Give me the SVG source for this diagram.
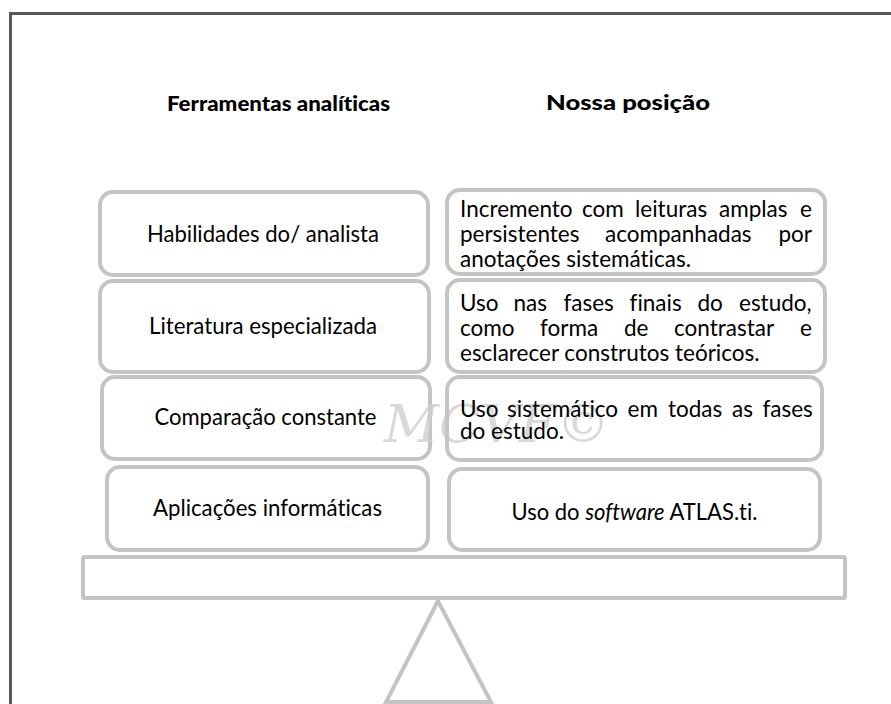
<svg xmlns="http://www.w3.org/2000/svg" width="891" height="704" viewBox="0 0 891 704">
<style>
text{font-variant-ligatures:none;font-feature-settings:"liga" 0,"dlig" 0}
.frame{fill:none;stroke:#595959;stroke-width:3}
.box{fill:#fff;stroke:#c4c4c4;stroke-width:4}
.t{font-family:Lato,"Liberation Sans",sans-serif;font-size:22.5px;fill:#000}
.h{font-family:Lato,"Liberation Sans",sans-serif;font-size:20.5px;font-weight:900;fill:#000}
.c{text-anchor:middle}
.wm{font-family:"DejaVu Serif","Liberation Serif",serif;font-style:italic;font-size:52px;fill:#d0d0d0;opacity:0.8}
</style>
<rect width="891" height="704" fill="#fff"/>
<rect class="frame" x="10.5" y="13.5" width="920" height="740"/>

<g id="headings">
<text class="h c" x="278.5" y="111" textLength="223" lengthAdjust="spacingAndGlyphs">Ferramentas analíticas</text>
<text class="h c" x="628" y="110" textLength="164" lengthAdjust="spacingAndGlyphs">Nossa posição</text>
</g>

<g id="fulcrum">
<polygon class="box" points="438,601 386,702 491,702"/>
</g>

<g id="plank">
<rect class="box" x="83" y="557" width="762" height="41" rx="1.5"/>
</g>

<g id="L1">
<rect class="box" x="100" y="192" width="328" height="83" rx="13"/>
<text class="t c" x="263" y="242" textLength="232" lengthAdjust="spacingAndGlyphs">Habilidades do/ analista</text>
</g>
<g id="L2">
<rect class="box" x="100" y="281" width="329" height="91" rx="13"/>
<text class="t c" x="263" y="334" textLength="228" lengthAdjust="spacingAndGlyphs">Literatura especializada</text>
</g>
<g id="L3">
<rect class="box" x="102" y="377" width="328" height="82" rx="13"/>
<text class="t c" x="265.5" y="425" textLength="222" lengthAdjust="spacingAndGlyphs">Comparação constante</text>
</g>
<g id="L4">
<rect class="box" x="107" y="467" width="321" height="83" rx="13"/>
<text class="t c" x="267.5" y="515.5" textLength="229" lengthAdjust="spacingAndGlyphs">Aplicações informáticas</text>
</g>

<text class="wm" x="384" y="442" textLength="226" lengthAdjust="spacingAndGlyphs">MCVF©</text>

<g id="R1">
<rect class="box" x="447" y="190" width="378" height="84" rx="13" fill="none" style="fill:none"/>
<text class="t" y="216.5"><tspan x="460">Incremento</tspan><tspan x="582">com</tspan><tspan x="635">leituras</tspan><tspan x="719">amplas</tspan><tspan x="800">e</tspan></text>
<text class="t" y="241.5"><tspan x="460">persistentes</tspan><tspan x="605">acompanhadas</tspan><tspan x="778.5">por</tspan></text>
<text class="t" y="266.5" x="460">anotações sistemáticas.</text>
</g>
<g id="R2">
<rect class="box" x="447" y="280" width="378" height="92" rx="13" style="fill:none"/>
<text class="t" y="311"><tspan x="460">Uso</tspan><tspan x="513.5">nas</tspan><tspan x="563.5">fases</tspan><tspan x="629.5">finais</tspan><tspan x="697.5">do</tspan><tspan x="739">estudo,</tspan></text>
<text class="t" y="336"><tspan x="460">como</tspan><tspan x="540">forma</tspan><tspan x="624">de</tspan><tspan x="674">contrastar</tspan><tspan x="800">e</tspan></text>
<text class="t" y="361" x="460">esclarecer construtos teóricos.</text>
</g>
<g id="R3">
<rect class="box" x="447" y="377" width="375" height="83" rx="13" style="fill:none"/>
<text class="t" y="416.5"><tspan x="460">Uso</tspan><tspan x="507">sistemático</tspan><tspan x="627.5">em</tspan><tspan x="668">todas</tspan><tspan x="732">as</tspan><tspan x="762.5">fases</tspan></text>
<text class="t" y="439" x="460">do estudo.</text>
</g>
<g id="R4">
<rect class="box" x="449" y="469" width="371" height="81" rx="13"/>
<text class="t" y="520" x="511.5" textLength="246" lengthAdjust="spacingAndGlyphs">Uso do <tspan font-style="italic">software</tspan> ATLAS.ti.</text>
</g>
</svg>
